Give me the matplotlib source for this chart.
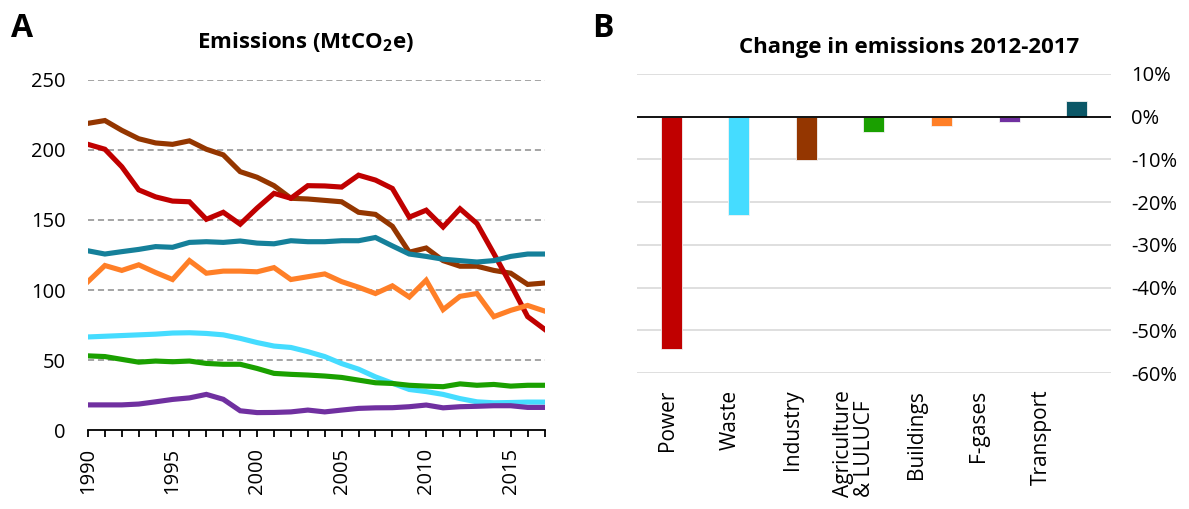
import numpy as np
import matplotlib
matplotlib.use("Agg")
import matplotlib.pyplot as plt
from matplotlib.ticker import FuncFormatter, MultipleLocator

plt.rcParams["font.family"] = ["Open Sans", "DejaVu Sans"]
plt.rcParams["mathtext.fontset"] = "custom"
plt.rcParams["mathtext.rm"] = "Open Sans"
plt.rcParams["mathtext.bf"] = "Open Sans:bold"

# ---- panel A: sector emissions, MtCO2e ----
years = np.arange(1990, 2018)
industry = [219, 221, 214, 208, 205, 204, 206.5, 200.5, 196.5, 184.5, 180.5, 174.5, 165.5, 165,
            164, 163, 155.5, 154, 145.5, 127, 130, 121, 117, 117, 114, 112, 104, 105]
power = [204, 200.5, 188, 171.5, 166.5, 163.5, 163, 150.5, 155.5, 147, 158.5, 169, 165.5, 174.5,
         174.3, 173.5, 182, 178.5, 172.5, 152, 157, 145, 158, 147.5, 126, 104, 81, 72]
transport = [128, 125.7, 127.4, 129, 131, 130.5, 134, 134.5, 134, 135, 133.5, 133, 135.2, 134.5,
             134.5, 135.2, 135.2, 137.5, 131.5, 125.7, 124, 122, 121, 120, 121, 124, 125.7, 125.7]
buildings = [106, 117.5, 114, 118, 112.5, 107.5, 121, 112, 113.5, 113.5, 113, 116, 107.5, 109.5,
             111.5, 106, 102, 97.5, 103, 95, 107, 86, 95.5, 97.5, 81, 85.5, 89, 85]
waste = [66.5, 67, 67.5, 68, 68.5, 69.3, 69.5, 69, 68, 65.5, 62.5, 60, 59, 56,
         52.5, 47.5, 43.5, 38, 33.5, 29, 27.5, 25.5, 22.5, 20.2, 19.5, 19.7, 20, 20]
agriculture = [53, 52.5, 50.5, 48.5, 49.3, 48.8, 49.3, 47.6, 47, 47, 44, 40.5, 39.8, 39.3,
               38.6, 37.6, 35.7, 33.8, 33.3, 32, 31.4, 31, 33, 32, 32.6, 31.4, 32, 32]
fgases = [18, 18, 18, 18.6, 20.2, 21.9, 23, 25.5, 22, 13.8, 12.5, 12.6, 13, 14.3,
          13, 14.3, 15.5, 15.9, 16, 16.7, 17.9, 15.9, 16.7, 17, 17.4, 17.4, 16.2, 16.2]

# ---- panel B: change 2012-2017, % ----
sectors = ["Power", "Waste", "Industry", "Agriculture\n& LULUCF", "Buildings", "F-gases", "Transport"]
change = [-54.3, -23.1, -10.1, -3.6, -2.3, -1.2, 3.7]

line_series = [
    (industry, "#943600"),
    (power, "#C00000"),
    (transport, "#15809A"),
    (buildings, "#FF7F27"),
    (waste, "#45DCFF"),
    (agriculture, "#1AA000"),
    (fgases, "#7030A0"),
]
bar_colors = ["#C00000", "#45DCFF", "#943600", "#1AA000", "#FF7F27", "#7030A0", "#0B5767"]

fig = plt.figure(figsize=(11.89, 5.09), dpi=100)

ax = fig.add_axes([0.074, 0.155, 0.384, 0.688])
for y in (50, 100, 150, 200, 250):
    ax.axhline(y, color="#8c8c8c", lw=1.1, ls=(0, (4, 2.5)), zorder=1)
for vals, c in line_series:
    ax.plot(years, vals, color=c, lw=3.7, solid_joinstyle="miter", zorder=3)
ax.set_xlim(1990, 2017)
ax.set_ylim(0, 250)
ax.set_yticks([0, 50, 100, 150, 200, 250])
ax.xaxis.set_major_locator(MultipleLocator(5))
ax.xaxis.set_minor_locator(MultipleLocator(1))
ax.tick_params(axis="y", length=0, pad=16, labelsize=14.5)
ax.tick_params(axis="x", which="both", length=5, width=1.3, direction="out", pad=8,
               labelsize=14.5, labelrotation=90)
for s in ("left", "right", "top"):
    ax.spines[s].set_visible(False)
ax.spines["bottom"].set_linewidth(1.3)
ax.set_facecolor("none")

bx = fig.add_axes([0.536, 0.267, 0.398, 0.588])
xpos = np.arange(len(sectors))
for y in range(-60, 11, 10):
    if y != 0:
        bx.axhline(y, color="#d9d9d9", lw=1.2, zorder=1)
bx.bar(xpos, change, width=0.31, color=bar_colors, edgecolor="#f2f2f2", linewidth=0.6, zorder=2)
bx.axhline(0, color="black", lw=1.3, zorder=3)
bx.set_xlim(-0.5, 6.5)
bx.set_ylim(-60, 10)
bx.yaxis.tick_right()
bx.set_yticks(range(-60, 11, 10))
bx.yaxis.set_major_formatter(FuncFormatter(lambda v, p: f"{v:.0f}%"))
bx.tick_params(axis="y", length=0, pad=15, labelsize=14.5)
label_pos = xpos * 0.92 - 0.05
bx.set_xticks(label_pos)
bx.set_xticklabels(sectors, rotation=90, va="top", ha="center", fontsize=15,
                   multialignment="left", linespacing=1.0)
bx.tick_params(axis="x", length=0, pad=12)
for s in bx.spines.values():
    s.set_visible(False)

fig.text(0.257, 0.906, "Emissions (MtCO$_\\mathbf{2}$e)", ha="center", va="baseline",
         fontsize=16, fontweight="bold")
fig.text(0.765, 0.896, "Change in emissions 2012-2017", ha="center", va="baseline",
         fontsize=16, fontweight="bold")
fig.text(0.009, 0.927, "A", ha="left", va="baseline", fontsize=23, fontweight="bold")
fig.text(0.498, 0.927, "B", ha="left", va="baseline", fontsize=23, fontweight="bold")

fig.savefig("out.png", dpi=100)
